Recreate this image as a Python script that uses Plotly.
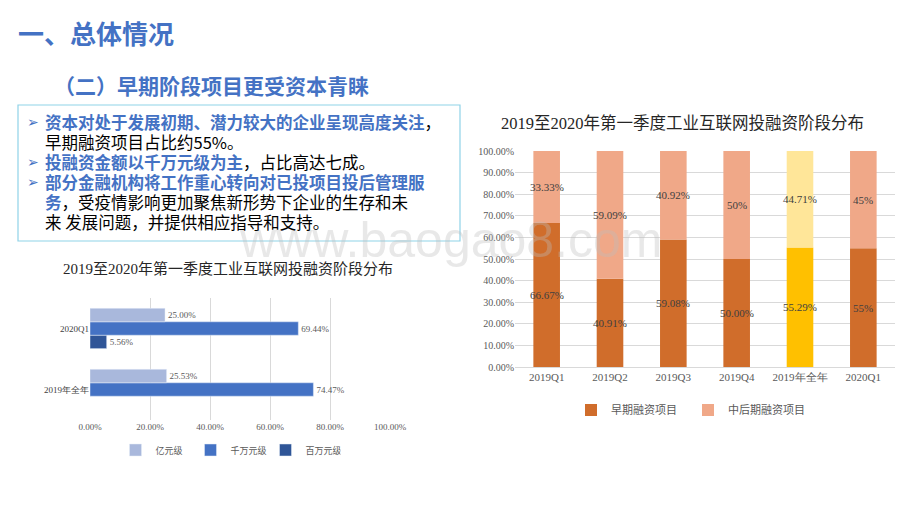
import plotly.graph_objects as go

# left chart: amount level share
amt_cats = ["2019年全年", "2020Q1"]
amt_yi = [25.53, 25.00]
amt_qw = [74.47, 69.44]
amt_bw = [None, 5.56]
amt_ticks = [0, 20, 40, 60, 80, 100]

# right chart: stage share
stage_cats = ["2019Q1", "2019Q2", "2019Q3", "2019Q4", "2019年全年", "2020Q1"]
early = [66.67, 40.91, 59.08, 50.00, 55.29, 55]
later = [33.33, 59.09, 40.92, 50, 44.71, 45]
early_lbl = ["66.67%", "40.91%", "59.08%", "50.00%", "55.29%", "55%"]
later_lbl = ["33.33%", "59.09%", "40.92%", "50%", "44.71%", "45%"]

BLUE = "#4472c4"
SERIF = "Liberation Serif"
CJK = "Noto Sans CJK SC"

fig = go.Figure()

# left: horizontal grouped bars (added bottom-to-top)
for i, (name, vals, col) in enumerate([("百万元级", amt_bw, "#2f5597"),
                                       ("千万元级", amt_qw, "#4472c4"),
                                       ("亿元级", amt_yi, "#a9b8dc")]):
  fig.add_trace(go.Bar(
    y=amt_cats, x=vals, name=name, orientation="h",
    marker=dict(color=col), offsetgroup=str(i), width=0.22, offset=-0.33 + 0.22 * i,
    text=[f"{v:.2f}%" if v is not None else "" for v in vals],
    textposition="outside", cliponaxis=False, textangle=0,
    textfont=dict(family=SERIF, size=9, color="#595959"),
    xaxis="x", yaxis="y", legend="legend",
  ))

# right: stacked columns, 2019 full year highlighted
early_cols = ["#d06d2b"] * 6
early_cols[4] = "#ffc000"
later_cols = ["#f0a888"] * 6
later_cols[4] = "#ffe699"
for name, vals, cols in [("早期融资项目", early, early_cols),
                         ("中后期融资项目", later, later_cols)]:
  fig.add_trace(go.Bar(
    x=stage_cats, y=vals, name=name, marker=dict(color=cols, line=dict(width=0)),
    textposition="none", xaxis="x2", yaxis="y2", legend="legend2", width=0.42,
  ))
# data labels that may overflow the narrow bars
for c, e, l, el, ll in zip(stage_cats, early, later, early_lbl, later_lbl):
  for yv, t in [(e / 2, el), (e + l / 2, ll)]:
    fig.add_annotation(x=c, y=yv, xref="x2", yref="y2", text=t, showarrow=False,
                       font=dict(family=SERIF, size=11, color="#404040"))

W, H = 904, 502
OFF = 8  # page body margin
def px(x): return (x - OFF) / W
def py(y): return 1 - (y - OFF) / H

fig.update_layout(
  width=W, height=H, margin=dict(l=0, r=0, t=0, b=0, autoexpand=False),
  paper_bgcolor="white", plot_bgcolor="white",
  barmode="relative", bargap=0.35, bargroupgap=0,
  showlegend=True,
  xaxis=dict(domain=[px(90), px(390)], range=[0, 100], tickvals=amt_ticks,
             ticktext=[f"{t:.2f}%" for t in amt_ticks], showgrid=True, automargin=False,
             gridcolor="#d9d9d9", zeroline=False, anchor="y",
             tickfont=dict(family=SERIF, size=9, color="#595959")),
  yaxis=dict(domain=[py(420), py(298)], anchor="x", showgrid=False, automargin=False,
             tickfont=dict(family=SERIF, size=9, color="#404040"),
             ticks="", showline=False),
  xaxis2=dict(domain=[px(515), px(895)], anchor="y2", showline=True, automargin=False,
              linecolor="#d9d9d9", tickfont=dict(family=SERIF, size=11, color="#595959")),
  yaxis2=dict(domain=[py(367), py(151)], anchor="x2", range=[0, 100], dtick=10, automargin=False,
              tickformat=".2f", ticksuffix="%", showgrid=True, gridcolor="#d9d9d9",
              zeroline=False, tickfont=dict(family=SERIF, size=10, color="#595959")),
  legend=dict(orientation="h", x=px(228), xanchor="center", y=py(450), yanchor="middle",
              traceorder="reversed", font=dict(family=CJK, size=9, color="#595959"),
              itemwidth=30, entrywidth=30, bgcolor="rgba(0,0,0,0)"),
  legend2=dict(orientation="h", x=px(688), xanchor="center", y=py(410), yanchor="middle",
               font=dict(family=CJK, size=11, color="#595959"), itemwidth=30,
               entrywidth=72, bgcolor="rgba(0,0,0,0)"),
)

# watermark
fig.add_annotation(x=px(450), y=py(240), xref="paper", yref="paper", text="www.baogao8.com",
                   showarrow=False, font=dict(family="Liberation Sans", size=50, color="rgba(190,190,190,0.35)"))

# text box
fig.add_shape(type="rect", xref="paper", yref="paper", x0=px(18), x1=px(460), y0=py(105), y1=py(241),
              line=dict(color="#8fd3e8", width=1.2), fillcolor="white", layer="above")

def note(x, y, txt, size, color=BLUE, family=CJK, anchor="left"):
  fig.add_annotation(x=px(x), y=py(y), xref="paper", yref="paper", xanchor=anchor, yanchor="middle",
                     showarrow=False, text=txt, font=dict(family=family, size=size, color=color))

note(16, 33, "<b>一、总体情况</b>", 26)
note(52, 85, "<b>（二）早期阶段项目更受资本青睐</b>", 21)

lines = [
  (122, True, "<b>资本对处于发展初期、潜力较大的企业呈现高度关注</b><span style='color:#000'>，</span>"),
  (142, False, "<span style='color:#000'>早期融资项目占比约55%。</span>"),
  (162, True, "<b>投融资金额以千万元级为主</b><span style='color:#000'>，占比高达七成。</span>"),
  (182, True, "<b>部分金融机构将工作重心转向对已投项目投后管理服</b>"),
  (202, False, "<b>务</b><span style='color:#000'>，受疫情影响更加聚焦新形势下企业的生存和未</span>"),
  (222, False, "<span style='color:#000'>来 发展问题，并提供相应指导和支持。</span>"),
]
for y, bullet, txt in lines:
  if bullet:
    note(25, y, "➢", 14, family="DejaVu Sans")
  note(43, y, txt, 16.5)

# chart titles
note(228, 268, "2019至2020年第一季度工业互联网投融资阶段分布", 15, "#262626", SERIF + ", " + CJK, "center")
note(682, 123, "2019至2020年第一季度工业互联网投融资阶段分布", 16.5, "#262626", SERIF + ", " + CJK, "center")

fig.write_html("out.html")
